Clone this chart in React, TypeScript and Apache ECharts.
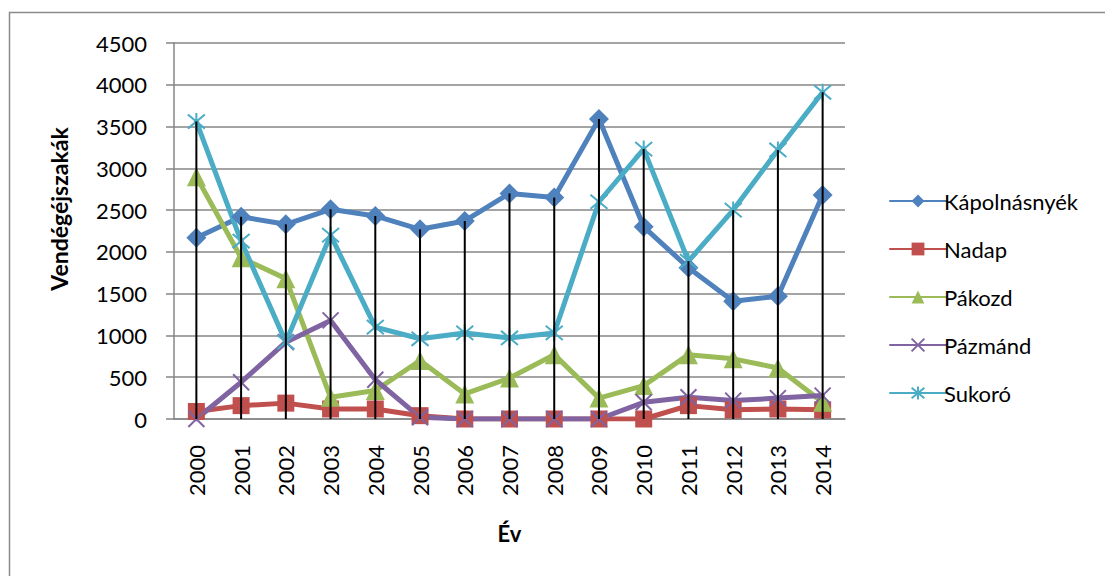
import React, { useEffect, useRef } from "react";
import * as echarts from "echarts";

const years = ["2000","2001","2002","2003","2004","2005","2006","2007","2008","2009","2010","2011","2012","2013","2014"];
const kapolnasnyek = [2170, 2420, 2330, 2510, 2430, 2270, 2370, 2700, 2650, 3590, 2300, 1810, 1410, 1470, 2680];
const nadap = [90, 160, 190, 120, 120, 40, 0, 0, 0, 0, 0, 160, 110, 120, 110];
const pakozd = [2900, 1930, 1680, 260, 340, 700, 300, 490, 770, 250, 400, 770, 720, 610, 200];
const pazmand = [0, 440, 920, 1180, 470, 20, 0, 0, 0, 0, 200, 260, 220, 250, 280];
const sukoro = [3560, 2130, 920, 2200, 1100, 960, 1030, 970, 1030, 2600, 3230, 1890, 2500, 3220, 3910];
const yTicks = { min: 0, max: 4500, interval: 500 };

const FONT = "Lato, 'Open Sans', sans-serif";

export default function App() {
  const ref = useRef<HTMLDivElement>(null);
  useEffect(() => {
    if (!ref.current) return;
    const chart = echarts.init(ref.current, null, { renderer: "svg" });
    const all = [kapolnasnyek, nadap, pakozd, pazmand, sukoro];
    const drops = years.map((_, i) => Math.max(...all.map((s) => s[i])));
    const mk = (name: string, data: number[], color: string, symbol: string, size: number, stroke = false) => ({
      name,
      type: "line",
      data,
      symbol,
      symbolSize: size,
      lineStyle: { color, width: 5, cap: "round", join: "round" },
      itemStyle: stroke
        ? { color, borderColor: color, borderWidth: 2 }
        : { color },
      z: 3,
    });
    chart.setOption({
      animation: false,
      textStyle: { fontFamily: FONT },
      graphic: [
        {
          type: "rect",
          shape: { x: 9.5, y: 12.5, width: 1300, height: 800 },
          style: { fill: "none", stroke: "#8a8a8a", lineWidth: 1.5 },
          silent: true,
          z: -10,
        },
        {
          type: "text",
          x: 59,
          y: 209,
          rotation: Math.PI / 2,
          style: {
            text: "Vendégéjszakák",
            fontSize: 23,
            fontWeight: "bold",
            fontFamily: FONT,
            fill: "#000",
            align: "center",
            verticalAlign: "middle",
          },
        },
      ],
      grid: { left: 174, right: 260, top: 43, bottom: 157, containLabel: false },
      legend: {
        orient: "vertical",
        left: 884,
        top: 185,
        itemWidth: 56,
        itemHeight: 16,
        itemGap: 26,
        data: ["Kápolnásnyék", "Nadap", "Pákozd", "Pázmánd", "Sukoró"],
        textStyle: { fontSize: 22, color: "#000", fontFamily: FONT, padding: [0, 0, 0, -7] },
      },
      xAxis: {
        type: "category",
        data: years,
        boundaryGap: true,
        name: "Év",
        nameLocation: "middle",
        nameGap: 103,
        nameTextStyle: { fontSize: 22, fontWeight: "bold", color: "#000", fontFamily: FONT },
        axisLine: { lineStyle: { color: "#868686", width: 1.5 } },
        axisTick: { show: false },
        axisLabel: { rotate: 90, fontSize: 22, color: "#000", margin: 26, fontFamily: FONT },
        splitLine: { show: false },
      },
      yAxis: {
        type: "value",
        min: yTicks.min,
        max: yTicks.max,
        interval: yTicks.interval,
        axisLine: { show: true, lineStyle: { color: "#868686", width: 1.5 } },
        axisTick: { show: true, inside: false, length: 8, lineStyle: { color: "#868686", width: 1.5 } },
        axisLabel: { fontSize: 22, color: "#000", margin: 27, fontFamily: FONT, formatter: (v: number) => String(v) },
        splitLine: { lineStyle: { color: "#868686", width: 1.5 } },
      },
      series: [
        mk("Kápolnásnyék", kapolnasnyek, "#4F81BD", "diamond", 20),
        mk("Nadap", nadap, "#C0504D", "rect", 17),
        mk("Pákozd", pakozd, "#9BBB59", "triangle", 19),
        mk("Pázmánd", pazmand, "#8064A2", "path://M0,0L10,10M10,0L0,10", 16, true),
        mk("Sukoró", sukoro, "#4BACC6", "path://M0,0L10,10M10,0L0,10M5,-1L5,11", 17, true),
        {
          name: "drop",
          type: "bar",
          data: drops,
          barWidth: 2,
          itemStyle: { color: "#000" },
          silent: true,
          z: 5,
        },
      ],
    });
    return () => chart.dispose();
  }, []);
  return <div ref={ref} style={{ width: 1105, height: 576, position: "absolute", left: 0, top: 0 }} />;
}
